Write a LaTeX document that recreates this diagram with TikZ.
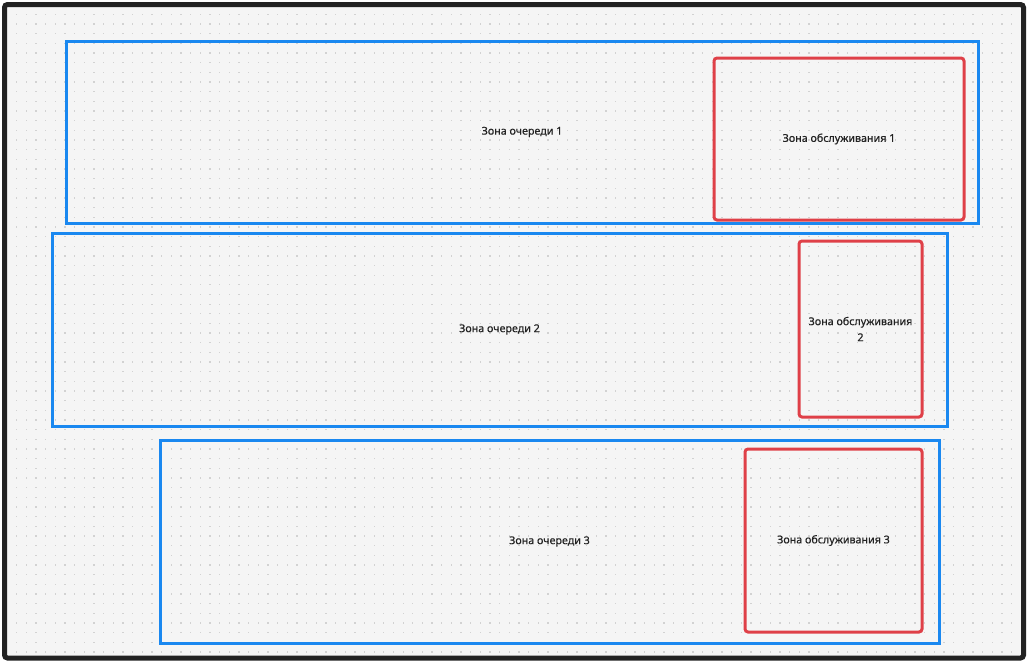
\documentclass[tikz,border=0pt]{standalone}
\usepackage{fontspec}
\setmainfont{Noto Sans}
\newfontfamily\lblfont[FakeBold=0.5]{Noto Sans}
\definecolor{zblue}{HTML}{1A88F0}
\definecolor{zred}{HTML}{DF4048}
\definecolor{bgc}{HTML}{F5F5F5}
\definecolor{dotc}{HTML}{D2D2D2}
\definecolor{framec}{HTML}{222222}
\definecolor{txtc}{HTML}{222222}
\tikzset{
  queuezone/.style={draw=zblue, line width=3pt, anchor=north west, inner sep=0pt, font=\lblfont\fontsize{10.7}{13}\selectfont, text=txtc},
  servezone/.style={draw=zred, line width=3pt, rounded corners=3pt, anchor=north west, inner sep=0pt, align=center, font=\lblfont\fontsize{10.7}{16}\selectfont, text=txtc},
}
\begin{document}
\begin{tikzpicture}[x=1pt,y=-1pt]
\useasboundingbox (0,0) rectangle (1030,665);
\fill[white] (0,0) rectangle (1030,665);
\fill[bgc, rounded corners=3pt] (4.5,4.5) rectangle (1023.5,658);
\begin{scope}
\clip (7,7) rectangle (1021,655.5);
\foreach \i in {0,...,104}{
  \foreach \j in {0,...,67}{
    \fill[dotc] ({16.1+9.66*\i},{13.7+9.66*\j}) rectangle ++(1.3,1.3);
  }
}
\end{scope}
\draw[framec, line width=5pt, rounded corners=3pt] (4.5,4.5) rectangle (1023.5,658);

\node[queuezone, minimum width=912pt, minimum height=182pt] (q1) at (64.5,39.5) {Зона очереди 1};
\node[queuezone, minimum width=895pt, minimum height=193pt] (q2) at (50.5,231.5) {Зона очереди 2};
\node[queuezone, minimum width=779pt, minimum height=203pt] (q3) at (158.5,438.5) {Зона очереди 3};

\node[servezone, minimum width=250pt, minimum height=162pt] (s1) at (712.5,56.5) {Зона обслуживания 1};
\node[servezone, minimum width=123pt, minimum height=176pt] (s2) at (797.5,239.5) {Зона обслуживания\\2};
\node[servezone, minimum width=177pt, minimum height=183pt] (s3) at (743.5,447.5) {Зона обслуживания 3};
\end{tikzpicture}
\end{document}
